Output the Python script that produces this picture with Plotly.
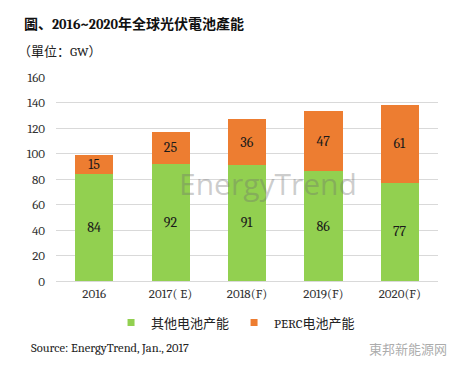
import plotly.graph_objects as go

categories = ["2016", "2017( E)", "2018(F)", "2019(F)", "2020(F)"]
other_cells = [84, 92, 91, 86, 77]
perc_cells = [15, 25, 36, 47, 61]
series_names = ["其他电池产能", "PERC电池产能"]
y_ticks = [0, 20, 40, 60, 80, 100, 120, 140, 160]

GREEN = "#92D050"
ORANGE = "#ED7D31"
SERIF = "Cambria, 'Liberation Serif', 'DejaVu Serif', serif"
CJK = "'Noto Sans CJK TC', 'Noto Sans CJK SC', sans-serif"
MIXED = "Cambria, 'Liberation Serif', 'Noto Sans CJK SC', serif"

fig = go.Figure()
fig.add_trace(go.Bar(
    x=categories, y=other_cells, name=series_names[0], showlegend=False,
    marker=dict(color=GREEN, line=dict(width=0)),
    text=other_cells, textposition="inside", insidetextanchor="middle", textangle=0,
    constraintext="none",
    insidetextfont=dict(family=SERIF, size=14, color="#1a1a1a"),
))
fig.add_trace(go.Bar(
    x=categories, y=perc_cells, name=series_names[1], showlegend=False,
    marker=dict(color=ORANGE, line=dict(width=0)),
    text=perc_cells, textposition="inside", insidetextanchor="middle", textangle=0,
    constraintext="none",
    insidetextfont=dict(family=SERIF, size=14, color="#1a1a1a"),
))
# legend entries with small square markers
for name, col in zip(series_names, [GREEN, ORANGE]):
    fig.add_trace(go.Scatter(x=[None], y=[None], mode="markers", name=name,
                             marker=dict(symbol="square", size=7, color=col)))

fig.update_layout(
    barmode="stack",
    bargap=0.5,
    width=462, height=370,
    margin=dict(l=56, r=24, t=77, b=89, autoexpand=False),
    paper_bgcolor="white", plot_bgcolor="white",
    showlegend=True,
    legend=dict(orientation="h", x=0.47, xanchor="center", y=-0.13, yanchor="top",
                font=dict(family=MIXED, size=13, color="#222"),
                itemwidth=30, traceorder="normal", tracegroupgap=0),
    xaxis=dict(tickfont=dict(family=SERIF, size=13, color="#333"),
               showline=True, linecolor="#D9D9D9", ticks="", fixedrange=True),
    yaxis=dict(range=[0, 160], tickvals=y_ticks, showgrid=True, gridcolor="#D9D9D9",
               gridwidth=1, zeroline=False, showline=False, ticks="",
               tickfont=dict(family=SERIF, size=13, color="#333"), ticklabelstandoff=10),
)

fig.add_annotation(text="<b>圖、2016~2020年全球光伏電池產能</b>", xref="paper", yref="paper",
                   x=-0.09, y=1.0, yshift=53, xanchor="left", yanchor="middle", showarrow=False,
                   font=dict(family=MIXED, size=14, color="#111"))
fig.add_annotation(text="（單位：GW）", xref="paper", yref="paper",
                   x=-0.105, y=1.0, yshift=26, xanchor="left", yanchor="middle", showarrow=False,
                   font=dict(family=MIXED, size=13, color="#222"))
fig.add_annotation(text="Source: EnergyTrend, Jan., 2017", xref="paper", yref="paper",
                   x=-0.07, y=0, yshift=-67, xanchor="left", yanchor="middle", showarrow=False,
                   font=dict(family=SERIF, size=12.5, color="#222"))
fig.add_annotation(text="EnergyTrend", xref="paper", yref="paper",
                   x=0.555, y=0.48, xanchor="center", yanchor="middle", showarrow=False,
                   font=dict(family="'Open Sans', sans-serif", size=30, color="rgba(110,110,110,0.35)"))
fig.add_annotation(text="東邦新能源网", xref="paper", yref="paper",
                   x=1.03, y=0, yshift=-67, xanchor="right", yanchor="middle", showarrow=False,
                   font=dict(family=CJK, size=13, color="rgba(150,150,150,0.8)"))

fig.write_html("out.html", post_script="document.body.style.margin='0';",
               config={"displayModeBar": False})
